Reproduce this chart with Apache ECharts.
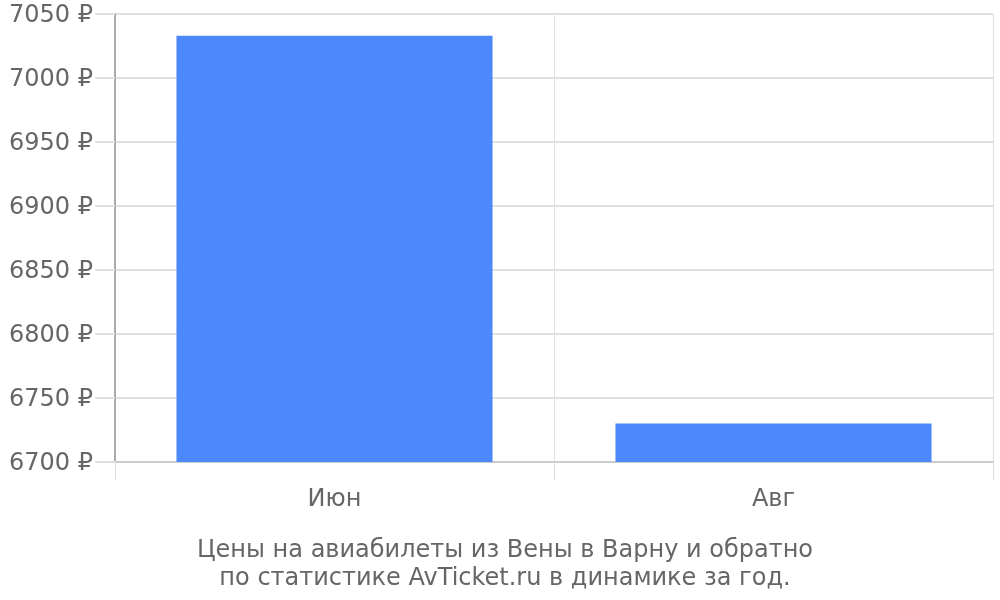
<!DOCTYPE html>
<html>
<head>
<meta charset="utf-8">
<script src="https://cdn.jsdelivr.net/npm/echarts@6/dist/echarts.min.js"></script>
<style>
  html, body { margin: 0; padding: 0; background: #fff; }
  #chart { width: 1000px; height: 600px; }
</style>
</head>
<body>
<div id="chart"></div>
<script>
// Monthly average ticket prices, roubles
const months = ['Июн', 'Авг'];
const prices = [7033, 6730];
const yMin = 6700;
const yMax = 7050;
const yStep = 50;
const caption = 'Цены на авиабилеты из Вены в Варну и обратно\nпо статистике AvTicket.ru в динамике за год.';

const font = 'DejaVu Sans';
const chart = echarts.init(document.getElementById('chart'));
chart.setOption({
  animation: false,
  textStyle: { fontFamily: font },
  title: {
    text: caption,
    left: 500,
    top: 532,
    textAlign: 'center',
    textStyle: {
      fontFamily: font,
      fontSize: 24,
      fontWeight: 'normal',
      color: '#666',
      lineHeight: 28
    }
  },
  grid: { left: 115, right: 7, top: 14, bottom: 138 },
  xAxis: {
    type: 'category',
    data: months,
    axisLine: { lineStyle: { color: '#ccc', width: 2 } },
    axisTick: { show: true, length: 18, lineStyle: { color: '#ddd' } },
    splitLine: { show: true, lineStyle: { color: '#e0e0e0' } },
    axisLabel: { fontSize: 24, color: '#666', margin: 26, fontFamily: font }
  },
  yAxis: {
    type: 'value',
    min: yMin,
    max: yMax,
    interval: yStep,
    axisLine: { show: true, lineStyle: { color: '#aaa', width: 2 } },
    axisTick: { show: true, length: 20, lineStyle: { color: '#e0e0e0', width: 2 } },
    splitLine: { show: true, lineStyle: { color: '#e0e0e0', width: 2 } },
    axisLabel: {
      color: '#666',
      margin: 22,
      formatter: v => '{p|' + v + ' ₽}',
      rich: {
        p: { fontSize: 24, color: '#666', fontFamily: font, padding: [4, 0, 0, 0] }
      }
    }
  },
  series: [{
    type: 'bar',
    data: prices,
    barCategoryGap: '28%',
    itemStyle: { color: '#4d88fb' }
  }]
});
</script>
</body>
</html>
